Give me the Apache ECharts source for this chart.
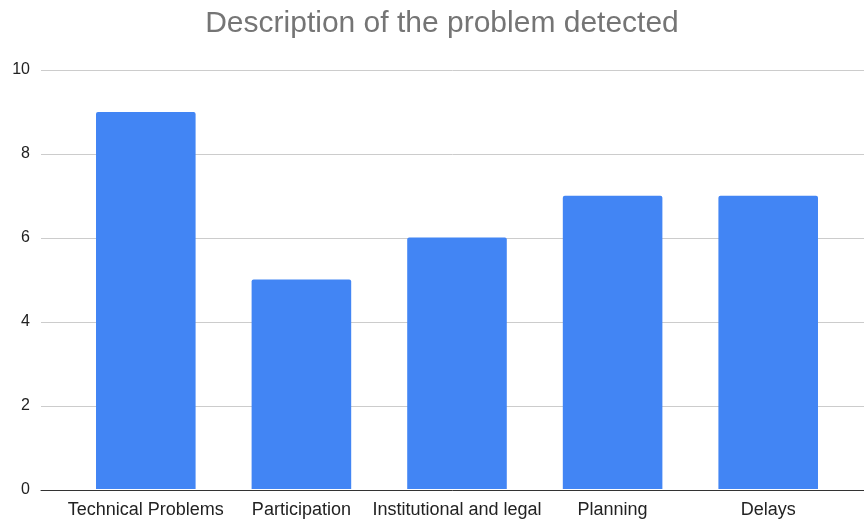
<!DOCTYPE html>
<html>
<head>
<meta charset="utf-8">
<script src="https://cdn.jsdelivr.net/npm/echarts@6/dist/echarts.min.js"></script>
<style>
  html, body { margin: 0; padding: 0; background: #fff; }
  #chart { width: 864px; height: 519px; }
</style>
</head>
<body>
<div id="chart"></div>
<script>
// Problem categories and how many times each was detected
const categories = ['Technical Problems', 'Participation', 'Institutional and legal', 'Planning', 'Delays'];
const counts = [9, 5, 6, 7, 7];
const yTicks = [0, 2, 4, 6, 8, 10];

const yMin = yTicks[0];
const yMax = yTicks[yTicks.length - 1];
const yStep = yTicks[1] - yTicks[0];

const chart = echarts.init(document.getElementById('chart'), null, { renderer: 'canvas' });

chart.setOption({
  animation: false,
  backgroundColor: '#ffffff',
  title: {
    text: 'Description of the problem detected',
    left: 437,
    textAlign: 'center',
    top: 4,
    textStyle: {
      fontFamily: 'Liberation Sans, Arial, sans-serif',
      fontSize: 30,
      fontWeight: 'normal',
      color: '#757575'
    }
  },
  grid: [
    // full-width frame: value labels, gridlines and baseline
    { left: 41, right: 0, top: 70, bottom: 29, containLabel: false },
    // inset band for the bars
    { left: 68, right: 18, top: 70, bottom: 29, containLabel: false }
  ],
  xAxis: [
    {
      gridIndex: 0,
      type: 'value',
      min: 0,
      max: 1,
      axisLine: { show: true, onZero: false, lineStyle: { color: '#333333', width: 1 } },
      axisTick: { show: false },
      axisLabel: { show: false },
      splitLine: { show: false }
    },
    {
      gridIndex: 1,
      type: 'category',
      data: categories,
      axisLine: { show: false },
      axisTick: { show: false },
      axisLabel: {
        interval: 0,
        margin: 12,
        fontFamily: 'Liberation Sans, Arial, sans-serif',
        fontSize: 18,
        color: '#222222'
      }
    }
  ],
  yAxis: [
    {
      gridIndex: 0,
      type: 'value',
      min: yMin,
      max: yMax,
      interval: yStep,
      axisLine: { show: false },
      axisTick: { show: false },
      axisLabel: {
        margin: 11,
        fontFamily: 'Liberation Sans, Arial, sans-serif',
        fontSize: 16,
        color: '#222222'
      },
      splitLine: { show: true, lineStyle: { color: '#cccccc', width: 1 } }
    },
    {
      gridIndex: 1,
      type: 'value',
      min: yMin,
      max: yMax,
      interval: yStep,
      show: false,
      splitLine: { show: false }
    }
  ],
  series: [
    {
      type: 'bar',
      xAxisIndex: 1,
      yAxisIndex: 1,
      data: counts,
      barWidth: '64%',
      itemStyle: { color: '#4285F4', borderRadius: [2, 2, 0, 0] }
    }
  ]
});
</script>
</body>
</html>
